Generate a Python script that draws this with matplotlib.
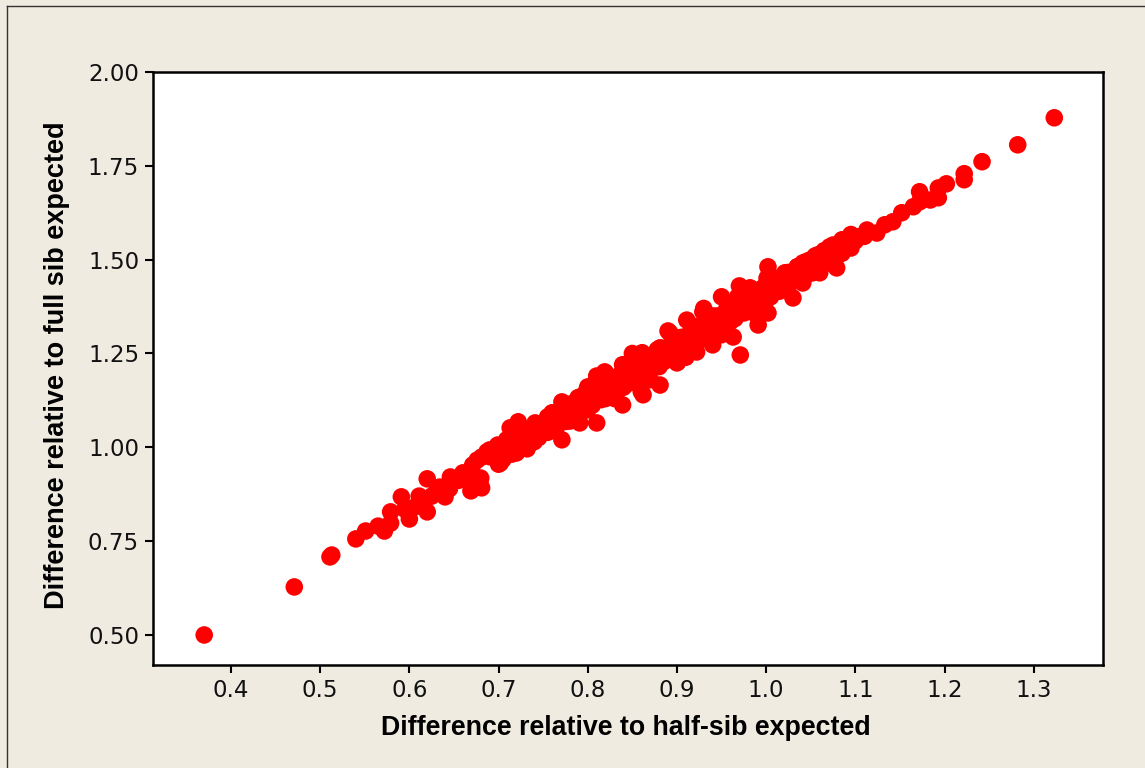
import matplotlib
matplotlib.use("Agg")
import matplotlib.pyplot as plt
from matplotlib.lines import Line2D

# Data
half_sib = [
    0.370, 0.471, 0.511, 0.513, 0.540, 0.551, 0.572, 0.579, 0.579, 0.591,
    0.600, 0.611, 0.620, 0.620, 0.631, 0.634, 0.640, 0.649, 0.660, 0.669,
    0.681, 0.680, 0.671, 0.681, 0.690, 0.702, 0.699, 0.709, 0.713, 0.722,
    0.732, 0.735, 0.741, 0.752, 0.755, 0.771, 0.771, 0.789, 0.788, 0.761,
    0.676, 0.679, 0.646, 0.687, 0.760, 0.791, 0.799, 0.791, 0.810, 0.819,
    0.810, 0.839, 0.861, 0.881, 0.892, 0.881, 0.862, 0.839, 0.901, 0.911,
    0.800, 0.900, 0.929, 0.950, 0.968, 0.982, 1.002, 1.001, 1.021, 1.035,
    1.030, 1.002, 0.991, 0.971, 0.963, 0.940, 0.922, 1.041, 1.052, 1.058,
    1.071, 1.079, 1.060, 1.091, 1.102, 1.113, 1.124, 1.133, 1.142, 1.152,
    1.165, 1.172, 1.172, 1.184, 1.193, 1.193, 1.202, 1.222, 1.222, 1.242,
    1.282, 1.323, 1.049, 1.041, 0.820, 0.860, 0.842, 0.878,
    0.69, 0.70, 0.70, 0.70, 0.71, 0.72, 0.72, 0.72, 0.73, 0.74,
    0.74, 0.74, 0.75, 0.76, 0.76, 0.76, 0.77, 0.78, 0.78, 0.78,
    0.79, 0.80, 0.80, 0.80, 0.81, 0.82, 0.82, 0.82, 0.83, 0.84,
    0.84, 0.84, 0.85, 0.86, 0.86, 0.86, 0.87, 0.88, 0.88, 0.88,
    0.89, 0.90, 0.90, 0.90, 0.91, 0.92, 0.92, 0.92, 0.93, 0.94,
    0.94, 0.94, 0.95, 0.96, 0.96, 0.96, 0.97, 0.98, 0.98, 0.98,
    0.99, 1.00, 1.00, 1.00, 1.01, 1.02, 1.02, 1.02, 1.03, 1.04,
    1.04, 1.05, 1.06, 1.06, 1.07, 1.08, 1.08, 1.09, 1.10, 1.11,
    0.705, 0.705, 0.715, 0.715, 0.725, 0.725, 0.735, 0.735, 0.745, 0.745,
    0.755, 0.755, 0.765, 0.765, 0.775, 0.775, 0.785, 0.785, 0.795, 0.795,
    0.805, 0.805, 0.815, 0.815, 0.825, 0.825, 0.835, 0.835, 0.845, 0.845,
    0.855, 0.855, 0.865, 0.865, 0.875, 0.875, 0.885, 0.885, 0.895, 0.895,
    0.905, 0.905, 0.915, 0.915, 0.925, 0.925, 0.935, 0.935, 0.945, 0.945,
    0.955, 0.955, 0.965, 0.965, 0.975, 0.975, 0.985, 0.985, 0.995, 0.995,
    1.005, 1.005, 1.015, 1.015, 1.025, 1.025, 1.035, 1.035, 1.045, 1.045,
    1.055, 1.055, 1.065, 1.065, 1.075, 1.075, 1.085, 1.085, 1.095, 1.095,
    0.83, 0.87, 0.91, 0.95, 0.99, 0.81, 0.85, 0.89, 0.93, 0.97,
    0.665, 0.655, 0.625, 0.605, 0.595, 0.565, 0.645, 0.615,
]
full_sib = [
    0.500, 0.628, 0.708, 0.713, 0.756, 0.777, 0.777, 0.828, 0.798, 0.868,
    0.809, 0.870, 0.828, 0.916, 0.886, 0.894, 0.868, 0.913, 0.932, 0.884,
    0.892, 0.918, 0.953, 0.974, 0.993, 0.958, 1.006, 1.020, 1.052, 1.068,
    0.996, 1.028, 1.065, 1.047, 1.081, 1.020, 1.121, 1.132, 1.073, 1.086,
    0.966, 0.905, 0.921, 0.988, 1.092, 1.134, 1.153, 1.065, 1.065, 1.201,
    1.185, 1.220, 1.252, 1.265, 1.305, 1.166, 1.140, 1.113, 1.228, 1.339,
    1.161, 1.225, 1.361, 1.401, 1.401, 1.425, 1.481, 1.451, 1.465, 1.481,
    1.398, 1.358, 1.326, 1.246, 1.294, 1.273, 1.254, 1.438, 1.465, 1.513,
    1.534, 1.478, 1.465, 1.547, 1.561, 1.579, 1.571, 1.593, 1.601, 1.625,
    1.641, 1.681, 1.654, 1.659, 1.691, 1.665, 1.702, 1.729, 1.713, 1.761,
    1.806, 1.878, 1.499, 1.491, 1.198, 1.148, 1.220, 1.260,
    0.975, 0.955, 0.980, 1.000, 0.995, 0.985, 1.010, 1.030, 1.020, 1.015,
    1.040, 1.058, 1.050, 1.045, 1.068, 1.090, 1.080, 1.070, 1.095, 1.115,
    1.110, 1.100, 1.125, 1.145, 1.140, 1.130, 1.155, 1.175, 1.165, 1.160,
    1.185, 1.205, 1.195, 1.185, 1.210, 1.235, 1.225, 1.215, 1.240, 1.262,
    1.255, 1.245, 1.270, 1.292, 1.285, 1.275, 1.300, 1.322, 1.312, 1.305,
    1.328, 1.350, 1.342, 1.335, 1.358, 1.380, 1.370, 1.362, 1.385, 1.405,
    1.398, 1.392, 1.415, 1.435, 1.428, 1.425, 1.445, 1.460, 1.455, 1.455,
    1.472, 1.485, 1.488, 1.500, 1.512, 1.518, 1.530, 1.540, 1.550, 1.562,
    0.968, 1.002, 0.982, 1.016, 0.997, 1.031, 1.010, 1.046, 1.026, 1.060,
    1.040, 1.075, 1.054, 1.090, 1.069, 1.104, 1.083, 1.119, 1.098, 1.133,
    1.112, 1.148, 1.127, 1.162, 1.141, 1.177, 1.155, 1.191, 1.170, 1.206,
    1.184, 1.220, 1.199, 1.235, 1.213, 1.249, 1.228, 1.264, 1.242, 1.278,
    1.257, 1.293, 1.271, 1.307, 1.285, 1.321, 1.300, 1.336, 1.314, 1.350,
    1.329, 1.365, 1.343, 1.379, 1.358, 1.394, 1.372, 1.408, 1.387, 1.423,
    1.401, 1.437, 1.416, 1.452, 1.430, 1.466, 1.445, 1.481, 1.459, 1.495,
    1.474, 1.510, 1.488, 1.524, 1.503, 1.539, 1.517, 1.553, 1.531, 1.567,
    1.130, 1.180, 1.240, 1.300, 1.350, 1.190, 1.250, 1.310, 1.370, 1.430,
    0.925, 0.912, 0.870, 0.840, 0.835, 0.790, 0.890, 0.860,
]

x_ticks = [0.4, 0.5, 0.6, 0.7, 0.8, 0.9, 1.0, 1.1, 1.2, 1.3]
x_tick_labels = ["0.4", "0.5", "0.6", "0.7", "0.8", "0.9", "1.0", "1.1", "1.2", "1.3"]
y_ticks = [0.50, 0.75, 1.00, 1.25, 1.50, 1.75, 2.00]
y_tick_labels = ["0.50", "0.75", "1.00", "1.25", "1.50", "1.75", "2.00"]
x_label = "Difference relative to half-sib expected"
y_label = "Difference relative to full sib expected"

bg = "#EFEBE1"
fig = plt.figure(figsize=(11.45, 7.68), dpi=100, facecolor=bg)

# outer frame lines (left and top)
fig.add_artist(Line2D([7 / 1145, 7 / 1145], [0, 1 - 6 / 768], transform=fig.transFigure,
                      color="#333333", lw=1.0))
fig.add_artist(Line2D([7 / 1145, 1], [1 - 6 / 768, 1 - 6 / 768], transform=fig.transFigure,
                      color="#333333", lw=1.0))

ax = fig.add_axes([153 / 1145, 103 / 768, 950 / 1145, 593 / 768])
ax.set_facecolor("white")
ax.scatter(half_sib, full_sib, s=160, color="#FF0000", edgecolors="none", zorder=3)

ax.set_xlim(0.3126, 1.3776)
ax.set_ylim(0.420, 2.000)
ax.set_xticks(x_ticks)
ax.set_xticklabels(x_tick_labels)
ax.set_yticks(y_ticks)
ax.set_yticklabels(y_tick_labels)

for sp in ax.spines.values():
    sp.set_linewidth(1.8)
    sp.set_color("black")

ax.tick_params(axis="both", direction="out", length=6, width=1.5, color="black",
               labelsize=16.5, labelcolor="#111111", pad=4)
for lab in ax.get_xticklabels() + ax.get_yticklabels():
    lab.set_family("DejaVu Sans")

ax.set_xlabel(x_label, fontsize=19.3, fontweight="bold", family="Liberation Sans", va="center")
ax.set_ylabel(y_label, fontsize=19.5, fontweight="bold", family="Liberation Sans", va="center")
ax.xaxis.set_label_coords(0.498, -0.106)
ax.yaxis.set_label_coords(-0.101, 0.506)

fig.savefig("out.png", dpi=100, facecolor=bg)
